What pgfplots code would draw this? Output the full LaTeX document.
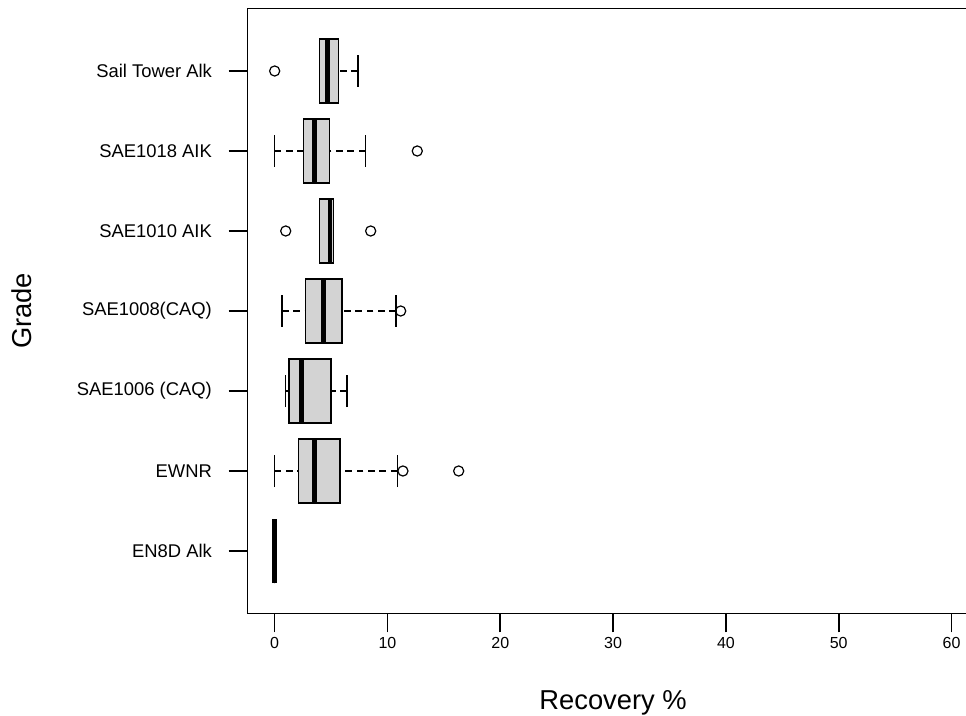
\documentclass[border=0pt]{standalone}
\usepackage{fontspec}
\setmainfont{Liberation Sans}
\usepackage{pgfplots}
\pgfplotsset{compat=1.18}
\usepgfplotslibrary{statistics}
\definecolor{boxgray}{RGB}{211,211,211}
\begin{document}
\begin{tikzpicture}
\begin{axis}[
  scale only axis,
  width=548.25pt, height=453.6pt,
  xmin=-2.4, xmax=62.4,
  ymin=0.22, ymax=7.78,
  xtick={0,10,20,30,40,50,60},
  ytick={1,2,3,4,5,6,7},
  yticklabels={EN8D Alk, EWNR, SAE1006 (CAQ), SAE1008(CAQ), SAE1010 AIK, SAE1018 AIK, Sail Tower Alk},
  tick pos=left,
  tick align=outside,
  major tick length=14.25pt,
  xtick style={draw=black, line width=1.2pt, solid},
  ytick style={draw=black, line width=1.2pt, solid},
  axis line style={line width=1pt, black},
  /pgf/number format/assume math mode=true,
  xticklabel style={font=\fontsize{12}{14}\selectfont, text=black},
  yticklabel style={font=\fontsize{13.8}{16}\selectfont, text=black},
  yticklabel shift=9pt,
  xlabel={Recovery \%},
  ylabel={Grade},
  every axis x label/.style={at={(axis description cs:0.5,0)}, anchor=base, yshift=-71.7pt, font=\fontsize{20.5}{24}\selectfont, text=black},
  every axis y label/.style={at={(axis description cs:0,0.5)}, xshift=-161.9pt, rotate=90, anchor=base, font=\fontsize{20.5}{24}\selectfont, text=black},
  boxplot/box extend=0.8,
  boxplot/whisker extend=0.4,
  boxplot/every box/.style={fill=boxgray, draw=black, line width=1pt, solid},
  boxplot/every median/.style={line width=3.6pt, black, solid},
  boxplot/draw/lower whisker/.code={%
    \draw[line width=1pt, dash pattern=on 5pt off 3.5pt]
      (boxplot cs:\pgfplotsboxplotvalue{lower whisker}) -- (boxplot cs:\pgfplotsboxplotvalue{lower quartile});
    \draw[line width=1pt, solid]
      (boxplot whisker cs:\pgfplotsboxplotvalue{lower whisker},0) -- (boxplot whisker cs:\pgfplotsboxplotvalue{lower whisker},1);
  },
  boxplot/draw/upper whisker/.code={%
    \draw[line width=1pt, dash pattern=on 5pt off 3.5pt]
      (boxplot cs:\pgfplotsboxplotvalue{upper whisker}) -- (boxplot cs:\pgfplotsboxplotvalue{upper quartile});
    \draw[line width=1pt, solid]
      (boxplot whisker cs:\pgfplotsboxplotvalue{upper whisker},0) -- (boxplot whisker cs:\pgfplotsboxplotvalue{upper whisker},1);
  },
  every axis plot/.append style={black, mark=o, mark size=3.8pt, mark options={solid, line width=0.9pt, black}},
]
% Sail Tower Alk
\addplot[boxplot prepared={draw position=7, lower whisker=3.99, lower quartile=3.99, median=4.66, upper quartile=5.64, upper whisker=7.38}]
  coordinates {(0,0)};
% SAE1018 AIK
\addplot[boxplot prepared={draw position=6, lower whisker=0, lower quartile=2.54, median=3.55, upper quartile=4.84, upper whisker=8.03}]
  coordinates {(0,12.64)};
% SAE1010 AIK
\addplot[boxplot prepared={draw position=5, lower whisker=3.99, lower quartile=3.99, median=4.9, upper quartile=5.2, upper whisker=5.2}]
  coordinates {(0,0.98) (0,8.51)};
% SAE1008(CAQ)
\addplot[boxplot prepared={draw position=4, lower whisker=0.65, lower quartile=2.71, median=4.34, upper quartile=5.97, upper whisker=10.75}]
  coordinates {(0,11.17)};
% SAE1006 (CAQ)
\addplot[boxplot prepared={draw position=3, lower whisker=0.94, lower quartile=1.27, median=2.36, upper quartile=4.99, upper whisker=6.41}]
  coordinates {};
% EWNR
\addplot[boxplot prepared={draw position=2, lower whisker=0, lower quartile=2.09, median=3.51, upper quartile=5.79, upper whisker=10.87}]
  coordinates {(0,11.37) (0,16.31)};
% EN8D Alk
\addplot[boxplot prepared={draw position=1, lower whisker=0, lower quartile=0, median=0, upper quartile=0, upper whisker=0}]
  coordinates {};
\end{axis}
\pgfresetboundingbox
\path (current axis.south west) ++(-185.7pt,-76.2pt) rectangle ++(724.5pt,536.25pt);
\end{tikzpicture}
\end{document}
